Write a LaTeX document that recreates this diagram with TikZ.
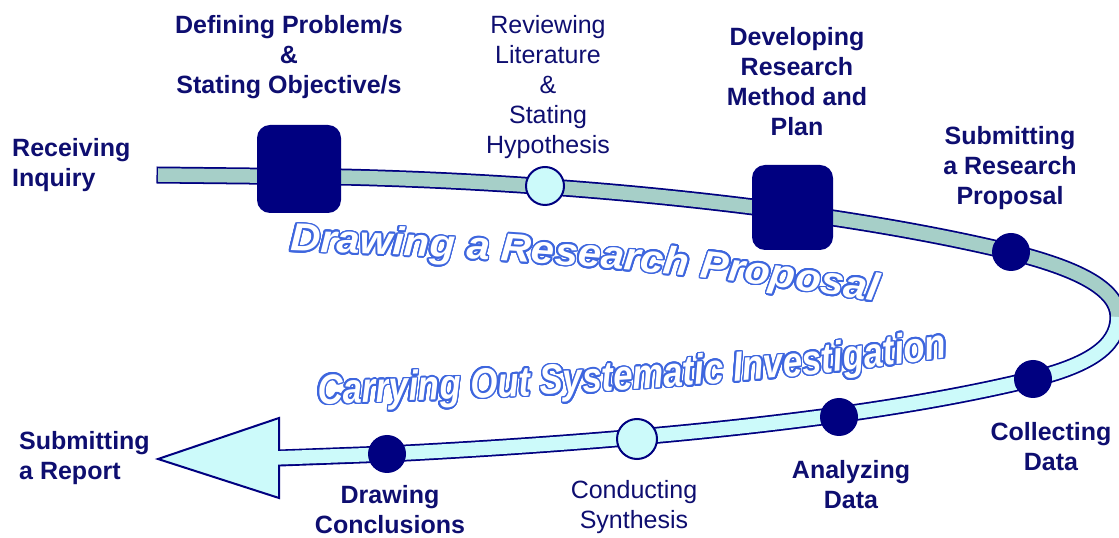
\documentclass[tikz,border=0pt]{standalone}
\usepackage{fontspec}
\setmainfont{Liberation Sans}
\newfontfamily\bannerwide[FakeStretch=1.07]{Liberation Sans}
\newfontfamily\bannernarrow[FakeStretch=0.83]{Liberation Sans}
\usepackage[copies]{contour}
\usetikzlibrary{decorations.text}

\definecolor{stepnavy}{RGB}{0,0,128}
\definecolor{labelnavy}{RGB}{14,14,112}
\definecolor{backband}{RGB}{166,207,200}
\definecolor{frontband}{RGB}{204,250,250}
\definecolor{bannerblue}{RGB}{62,102,222}

\contourlength{1.6pt}
\contournumber{24}
\newcommand\bannerchar[1]{\contour{bannerblue}{#1}}

\tikzset{
  steplabel/.style={text=labelnavy, font=\bfseries\fontsize{25}{30}\selectfont,
    align=center, inner sep=0pt, anchor=north},
  plainlabel/.style={steplabel, font=\fontsize{25}{30}\selectfont},
  bigstep/.style={fill=stepnavy, rounded corners=13pt, inner sep=0pt},
  darkstep/.style={circle, fill=stepnavy, minimum size=38pt, inner sep=0pt},
  lightstep/.style={circle, fill=frontband, draw=stepnavy, line width=2pt,
    minimum size=38pt, inner sep=0pt},
}

\begin{document}
\begin{tikzpicture}[x=1pt, y=1pt]
  \useasboundingbox (0,0) rectangle (1119,538);

  % ribbon: outline first, then the two faces
  \draw[stepnavy, line width=17pt] (156.5,363) -- (341,361)
    .. controls (600,355) and (850,325) .. (1011,286)
    .. controls (1075,270) and (1118,250) .. (1118,221)
    .. controls (1118,190) and (1085,172) .. (1033,159)
    .. controls (903,127) and (700,100) .. (387,84) -- (279,80);

  % arrow head
  \draw[fill=frontband, draw=stepnavy, line width=2pt, line join=miter]
    (279,40) -- (158,79) -- (279,120) -- cycle;

  \draw[backband, line width=13.5pt] (158,363) -- (341,361)
    .. controls (600,355) and (850,325) .. (1011,286)
    .. controls (1075,270) and (1118,250) .. (1118,221);
  \draw[frontband, line width=13.5pt] (1118,221)
    .. controls (1118,190) and (1085,172) .. (1033,159)
    .. controls (903,127) and (700,100) .. (387,84) -- (274,80);

  % steps on the ribbon
  \node[bigstep, minimum width=84pt, minimum height=88pt] (define) at (299,369) {};
  \node[lightstep] (review) at (545,352) {};
  \node[bigstep, minimum width=81pt, minimum height=85pt] (develop) at (792.5,330.5) {};
  \node[darkstep] (propose) at (1011,286) {};
  \node[darkstep] (collect) at (1033,159) {};
  \node[darkstep] (analyze) at (839,121) {};
  \node[lightstep, minimum size=40pt] (synth) at (637,99) {};
  \node[darkstep] (conclude) at (387,84) {};

  % labels
  \node[steplabel, anchor=north west, align=left] (receivetext) at (12,400)
    {Receiving\\Inquiry};
  \node[steplabel] (definetext) at (289,523)
    {Defining Problem/s\\\&\\Stating Objective/s};
  \node[plainlabel] (reviewtext) at (548,523)
    {Reviewing\\Literature\\\&\\Stating\\Hypothesis};
  \node[steplabel] (developtext) at (797,511)
    {Developing\\Research\\Method and\\Plan};
  \node[steplabel] (proposetext) at (1010,412)
    {Submitting\\a Research\\Proposal};
  \node[steplabel] (collecttext) at (1051,116) {Collecting\\Data};
  \node[steplabel] (analyzetext) at (851,78) {Analyzing\\Data};
  \node[plainlabel] (synthtext) at (634,58) {Conducting\\Synthesis};
  \node[steplabel] (concludetext) at (390,53) {Drawing\\Conclusions};
  \node[steplabel, anchor=north west, align=left] (reporttext) at (19,107)
    {Submitting\\a Report};

  % the two phases, bent along the ribbon
  \path[decorate, decoration={text effects along path,
      text={Drawing a Research Proposal},
      text effects/.cd, text along path,
      characters={text=white, font=\bannerwide\bfseries\itshape\fontsize{39}{42}\selectfont},
      character command=\bannerchar}]
    (290,287) .. controls (500,280) and (700,268) .. (900,232);
  \path[decorate, decoration={text effects along path,
      text={Carrying Out Systematic Investigation},
      text effects/.cd, text along path,
      characters={text=white, font=\bannernarrow\bfseries\itshape\fontsize{42}{44}\selectfont},
      character command=\bannerchar}]
    (318,134) .. controls (520,140) and (760,152) .. (955,182);
\end{tikzpicture}
\end{document}
